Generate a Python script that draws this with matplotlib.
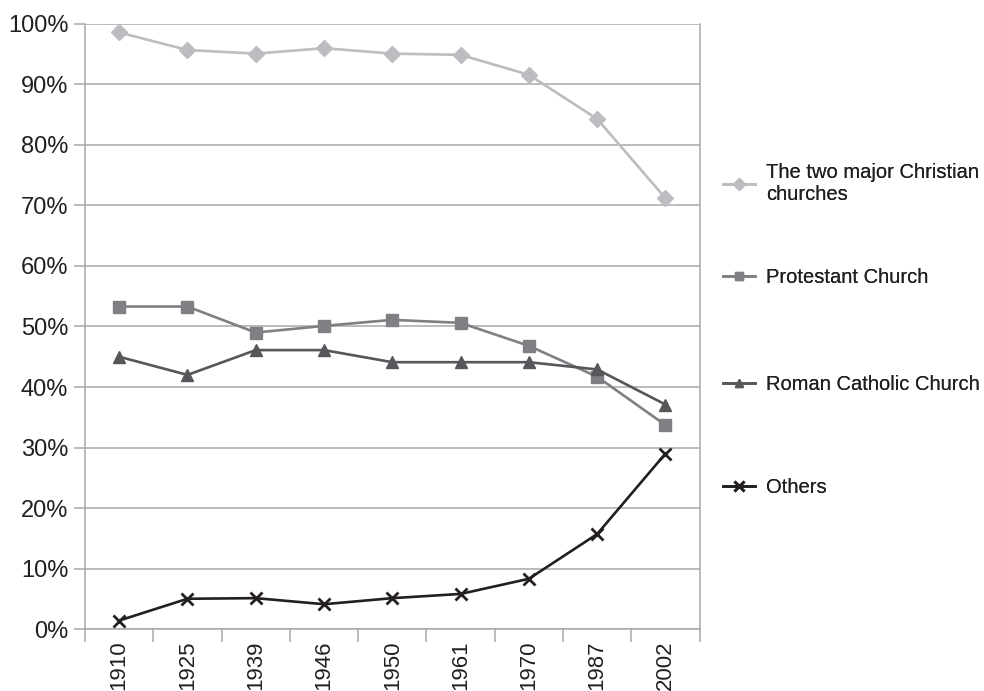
import matplotlib.pyplot as plt
from matplotlib.ticker import FixedLocator, PercentFormatter
import numpy as np

plt.rcParams['font.family'] = ['Liberation Sans', 'DejaVu Sans']

years = ['1910', '1925', '1939', '1946', '1950', '1961', '1970', '1987', '2002']
both_churches = [98.6, 95.7, 95.1, 96.0, 95.1, 94.9, 91.6, 84.3, 71.2]
protestant = [53.3, 53.3, 49.0, 50.1, 51.1, 50.6, 46.8, 41.7, 33.7]
catholic = [45.0, 42.0, 46.1, 46.1, 44.1, 44.1, 44.1, 42.9, 37.1]
others = [1.4, 5.0, 5.1, 4.1, 5.1, 5.8, 8.3, 15.7, 29.0]

series = [
    ('The two major Christian\nchurches', both_churches, '#bcbdc0', 'D', 8.5),
    ('Protestant Church', protestant, '#7f8083', 's', 8),
    ('Roman Catholic Church', catholic, '#56575a', '^', 8),
    ('Others', others, '#231f20', 'x', 9),
]
# vertical centre of each legend entry, figure fraction
legend_y = [0.734, 0.599, 0.443, 0.295]

text_col = '#231f20'
grid_col = '#a7a8aa'

fig = plt.figure(figsize=(9.84, 6.91), dpi=100)
ax = fig.add_axes([0.0864, 0.0897, 0.6246, 0.8756])

x = np.arange(len(years))
handles = []
for label, vals, color, marker, ms in series:
    mew = 2.0 if marker == 'x' else 1
    line, = ax.plot(x, vals, color=color, lw=1.9, marker=marker, ms=ms,
                    mew=mew, mec=color, mfc=color, label=label, zorder=3,
                    clip_on=False)
    handles.append(line)

ax.set_xlim(-0.5, len(years) - 0.5)
ax.set_ylim(0, 100)

ax.yaxis.set_major_locator(FixedLocator(np.arange(0, 101, 10)))
ax.yaxis.set_major_formatter(PercentFormatter(decimals=0))
ax.grid(axis='y', color=grid_col, lw=1.1)
ax.set_axisbelow(True)

# ticks sit between the categories, labels at the centres
ax.set_xticks(np.arange(-0.5, len(years), 1.0))
ax.set_xticklabels([])
ax.set_xticks(x, minor=True)
ax.set_xticklabels(years, minor=True, rotation=90, fontsize=16, color=text_col)
ax.tick_params(axis='x', which='minor', length=0, pad=8)
ax.tick_params(axis='x', which='major', length=9, width=1.1, color=grid_col)
ax.tick_params(axis='y', length=8, width=1.1, color=grid_col, labelsize=17,
               labelcolor=text_col, pad=4)

for side in ['left', 'right', 'bottom']:
    ax.spines[side].set_color(grid_col)
    ax.spines[side].set_linewidth(1.1)
ax.spines['top'].set_visible(False)

for h, y in zip(handles, legend_y):
    leg = fig.legend(handles=[h], loc='center left',
                     bbox_to_anchor=(0.7348, y), frameon=False, fontsize=14.5,
                     borderpad=0, borderaxespad=0, handlelength=1.6,
                     handletextpad=0.55, markerscale=0.75, labelcolor=text_col)
    fig.add_artist(leg)

fig.savefig('out.png', dpi=100)
